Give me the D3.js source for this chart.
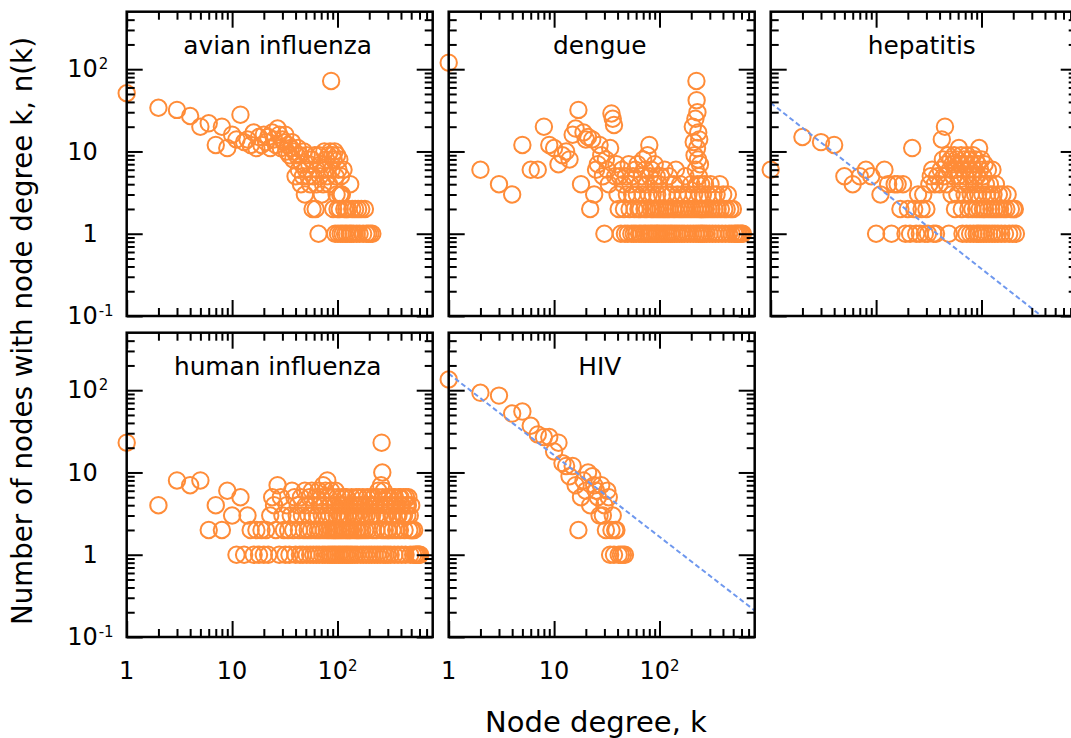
<!DOCTYPE html>
<html>
<head>
<meta charset="utf-8">
<script src="https://cdn.jsdelivr.net/npm/d3@7"></script>
<style>
body { margin: 0; background: #fff; }
svg text { font-family: "DejaVu Sans", Verdana, sans-serif; fill: #000; }
</style>
</head>
<body>
<svg id="chart" width="1071" height="738"></svg>
<script>
// Data: [node degree k, number of nodes n(k)] ==============================

var avianData = [
	[1,51],[2,34],[3,32],[4,27],[5,20],[6,22],[7,12],[8,20],[9,11],[10,16],[11,14],[12,28],
	[13,13],[14,14],[15,12],[16,17],[17,11],[18,15],[19,12],[20,16],[21,13],[22,15],[23,11],
	[24,17],[25,14],[26,12],[27,19],[28,16],[29,11],[30,14],[31,13],[32,16],[33,10],[34,12],
	[35,9],[36,11],[37,13],[38,8],[39,10],[40,5],[41,9],[42,11],[43,6],[44,9],[45,4],[46,7],
	[47,5],[48,10],[49,3],[50,6],[51,9],[53,5],[54,7],[55,4],[57,8],[58,2],[59,5],[61,9],
	[62,2],[63,4],[64,6],[66,1],[67,9],[68,5],[70,7],[71,3],[73,4],[75,10],[76,6],[78,8],
	[80,5],[82,9],[83,4],[85,10],[87,72],[88,6],[90,9],[91,2],[92,8],[94,10],[95,1],[96,5],
	[98,3],[99,9],[100,2],[101,1],[102,6],[104,8],[105,2],[106,3],[107,1],[108,5],[110,3],
	[112,1],[114,6],[116,2],[118,1],[121,2],[123,1],[126,2],[130,1],[132,4],[135,1],[138,2],
	[142,1],[147,2],[152,1],[157,2],[162,1],[168,2],[175,1],[182,2],[188,1],[196,1],[205,1],[214,1]
];

var dengueData = [
	[1,120],[2,6],[3,4],[4,3],[5,12],[6,6],[7,6],[8,20],[9,12],[10,11],[11,7],[12,9],[13,10],
	[14,8],[15,16],[16,19],[17,32],[18,4],[19,17],[20,14],[21,15],[22,2],[23,14],[24,3],[25,6],
	[26,7],[27,12],[28,9],[29,5],[30,1],[31,8],[32,6],[33,4],[34,11],[35,29],[36,25],[37,21],
	[38,5],[39,7],[40,3],[41,2],[42,5],[43,1],[44,6],[45,4],[46,2],[47,1],[48,5],[49,3],[50,1],
	[51,7],[52,2],[53,4],[54,1],[55,3],[56,5],[57,1],[58,2],[59,6],[60,1],[61,3],[62,7],[63,2],
	[64,1],[65,4],[66,2],[67,1],[68,5],[69,3],[70,8],[71,1],[72,2],[73,6],[74,1],[75,4],[76,2],
	[77,9],[78,1],[79,3],[80,12],[81,5],[82,1],[83,2],[84,6],[85,1],[86,3],[87,2],[88,4],[89,1],
	[90,7],[92,2],[93,1],[94,5],[95,3],[96,1],[97,2],[99,4],[100,1],[102,2],[103,5],[105,1],
	[106,3],[108,2],[110,1],[112,6],[113,2],[115,1],[117,3],[119,2],[121,1],[123,5],[125,2],
	[127,1],[130,3],[132,1],[134,2],[137,4],[139,1],[141,2],[143,6],[146,1],[148,3],[151,2],
	[154,1],[157,4],[160,2],[163,1],[166,3],[169,2],[172,1],[176,5],[180,2],[184,1],[188,3],
	[192,2],[196,1],[200,4],[204,2],[207,20],[209,1],[211,13],[213,3],[215,9],[217,2],[219,25],
	[221,6],[222,1],[224,72],[225,42],[227,11],[228,4],[229,30],[231,2],[232,8],[233,17],
	[234,1],[236,5],[238,14],[240,3],[242,7],[244,2],[246,1],[248,4],[251,2],[254,1],[258,3],
	[262,2],[266,1],[270,4],[275,2],[280,1],[286,3],[292,2],[298,1],[305,4],[312,2],[318,1],
	[325,3],[332,2],[340,1],[348,3],[356,2],[364,1],[373,4],[382,2],[392,1],[402,3],[412,2],
	[423,1],[434,2],[445,3],[457,1],[470,2],[483,1],[497,2],[512,1],[530,1],[548,1],[566,1],
	[586,1],[605,1],[618,1]
];

var hepatitisData = [
	[1,6],[2,15],[3,13],[4,12],[5,5],[6,4],[7,5],[8,6],[9,5],[10,1],[11,3],[12,6],[13,4],
	[14,1],[15,4],[16,4],[17,2],[18,4],[19,1],[20,2],[21,1],[22,11],[23,2],[24,1],[25,3],
	[26,1],[27,2],[28,3],[29,1],[30,2],[31,1],[32,4],[33,5],[34,6],[35,1],[36,4],[37,1],
	[38,5],[40,4],[41,6],[42,14],[43,8],[44,5],[45,20],[46,7],[47,4],[48,9],[49,1],[50,6],
	[51,8],[52,3],[53,7],[54,5],[55,9],[56,2],[57,6],[58,8],[59,3],[60,5],[61,11],[62,7],
	[63,4],[64,9],[65,2],[66,1],[67,6],[68,8],[69,3],[70,5],[71,7],[72,1],[73,9],[74,4],
	[75,2],[76,6],[77,8],[78,1],[79,3],[80,5],[81,7],[82,2],[83,9],[84,1],[85,4],[86,6],
	[87,3],[88,8],[89,2],[90,1],[91,5],[92,7],[93,3],[94,1],[95,11],[96,2],[97,6],[98,4],
	[99,1],[100,8],[102,3],[103,2],[104,5],[105,1],[107,7],[108,2],[110,4],[111,1],[113,3],
	[115,6],[116,2],[118,1],[120,4],[122,3],[124,2],[126,1],[127,6],[130,3],[132,2],[134,1],
	[137,4],[140,2],[143,1],[146,3],[150,2],[154,1],[158,3],[162,2],[167,1],[172,2],[177,3],
	[183,1],[190,2],[197,1],[202,2],[207,2],[212,1]
];

var humanFluData = [
	[1,23],[2,4],[3,8],[4,7],[5,8],[6,2],[7,4],[8,2],[9,6],[10,3],[11,1],[12,5],[13,1],[14,3],
	[15,2],[16,1],[17,2],[18,1],[19,2],[20,1],[21,2],[22,1],[23,3],[24,5],[25,4],[26,2],[27,7],
	[28,1],[29,5],[30,3],[31,2],[32,1],[33,4],[34,2],[35,1],[36,3],[37,6],[38,2],[39,5],[40,1],
	[41,3],[42,4],[43,2],[44,1],[45,5],[46,3],[47,1],[48,2],[49,6],[50,4],[51,1],[52,2],[53,3],
	[54,5],[55,1],[56,2],[57,6],[58,3],[59,1],[60,4],[61,2],[62,5],[63,1],[64,3],[65,2],[66,6],
	[67,1],[68,4],[69,2],[70,5],[71,3],[72,1],[73,7],[74,2],[75,4],[76,1],[77,6],[78,3],[79,2],
	[80,8],[81,1],[82,5],[83,2],[84,3],[85,1],[86,4],[87,6],[88,2],[89,1],[90,5],[91,3],[92,2],
	[93,1],[94,4],[95,2],[96,6],[97,1],[98,3],[99,2],[100,5],[102,1],[103,2],[104,4],[105,3],
	[106,1],[107,3],[108,2],[109,4],[110,5],[111,1],[112,3],[113,2],[114,4],[116,1],[117,3],
	[118,5],[119,2],[121,1],[122,5],[124,2],[125,3],[126,1],[128,3],[129,2],[130,4],[132,1],
	[134,2],[136,5],[138,1],[140,4],[141,3],[143,2],[145,3],[146,1],[148,4],[150,5],[151,2],
	[154,1],[156,2],[157,3],[160,5],[162,4],[163,2],[166,1],[168,3],[169,4],[172,2],[174,5],
	[176,1],[179,3],[181,4],[183,2],[187,1],[189,3],[191,5],[195,2],[197,4],[199,1],[203,4],
	[205,5],[207,3],[211,1],[213,3],[216,2],[220,5],[222,4],[225,1],[229,4],[232,3],[234,2],
	[239,1],[242,5],[244,6],[249,3],[252,4],[254,1],[259,7],[262,23],[264,2],[266,10],[269,5],
	[272,1],[275,6],[278,4],[280,3],[281,2],[285,1],[288,4],[290,3],[296,5],[299,2],[301,1],
	[307,2],[310,5],[313,4],[319,1],[322,4],[326,3],[332,2],[336,3],[339,5],[346,1],[350,5],
	[353,4],[360,2],[364,4],[367,3],[375,1],[379,3],[383,5],[391,2],[395,5],[399,4],[407,1],
	[411,4],[415,3],[424,5],[428,3],[433,2],[442,1],[446,5],[451,4],[460,3],[465,4],[470,5],
	[480,2],[485,3],[490,1],[500,4],[505,2],[511,2],[522,1],[534,2],[546,1],[558,1],[571,1],
	[584,1],[597,1],[609,1]
];

var hivData = [
	[1,135],[2,93],[3,86],[4,52],[5,55],[6,37],[7,29],[8,27],[9,27],[10,18],[11,23],[12,13],
	[13,12],[14,9],[15,12],[16,7],[17,2],[18,5],[19,8],[20,6],[21,10],[22,4],[23,9],[24,7],
	[25,6],[26,5],[27,3],[28,7],[29,3],[30,4],[31,2],[32,6],[33,5],[34,1],[35,2],[36,3],
	[37,1],[38,2],[39,2],[41,1],[43,1],[45,1],[47,1]
];

// power-law fits, end points [k, n]
var hepatitisFit = [[1, 39], [370, 0.1]];
var hivFit = [[1, 159], [800, 0.21]];

var panelTitles = ["avian influenza", "dengue", "hepatitis", "human influenza", "HIV"];
var panelData = [avianData, dengueData, hepatitisData, humanFluData, hivData];
var panelFits = [null, null, hepatitisFit, null, hivFit];

var xDomain = [1, 800];
var yDomain = [0.1, 500];
var xMajorTicks = [1, 10, 100];
var xMinorTicks = [2,3,4,5,6,7,8,9,20,30,40,50,60,70,80,90,200,300,400,500,600,700];
var yMajorTicks = [0.1, 1, 10, 100];
var yMinorTicks = [0.2,0.3,0.4,0.5,0.6,0.7,0.8,0.9,2,3,4,5,6,7,8,9,20,30,40,50,60,70,80,90,200,300,400];
var xTickBase = ["1", "10", "10"];
var xTickSup  = ["", "", "2"];
var yTickBase = ["10", "1", "10", "10"];
var yTickSup  = ["-1", "", "", "2"];

// Layout ====================================================================

var panelW = 306;
var panelH = 304.3;
var gapX = 16;
var gapY = 16.7;
var marginLeft = 126.7;
var marginTop = 11.7;
var markerColor = "#ff8c38";
var fitColor = "#6f98ee";

var svg = d3.select("#chart");

var xScale = d3.scaleLog().domain(xDomain).range([0, panelW]);
var yScale = d3.scaleLog().domain(yDomain).range([panelH, 0]);

var fitLine = d3.line()
	.x(function(d) { return xScale(d[0]) })
	.y(function(d) { return yScale(d[1]) });

for (var i = 0; i < panelTitles.length; i++) {
	drawPanel(i);
}

// axis titles
svg.append("text")
	.attr("x", 596)
	.attr("y", 732)
	.attr("text-anchor", "middle")
	.attr("font-size", 29)
	.text("Node degree, k");

svg.append("text")
	.attr("transform", "translate(32,331) rotate(-90)")
	.attr("text-anchor", "middle")
	.attr("font-size", 27.7)
	.text("Number of nodes with node degree k, n(k)");

function drawPanel(i) {
	var col = i % 3;
	var row = Math.floor(i / 3);
	var px = marginLeft + col * (panelW + gapX);
	var py = marginTop + row * (panelH + gapY);

	var g = svg.append("g")
		.attr("transform", "translate(" + px + "," + py + ")");

	g.append("clipPath")
		.attr("id", "clip" + i)
		.append("rect")
		.attr("width", panelW)
		.attr("height", panelH);

	g.append("g")
		.selectAll("circle")
		.data(panelData[i])
		.enter()
		.append("circle")
		.attr("cx", function(d) { return xScale(d[0]) })
		.attr("cy", function(d) { return yScale(d[1]) })
		.attr("r", 8.2)
		.attr("fill", "none")
		.attr("stroke", markerColor)
		.attr("stroke-width", 2);

	if (panelFits[i]) {
		g.append("path")
			.datum(panelFits[i])
			.attr("d", fitLine)
			.attr("clip-path", "url(#clip" + i + ")")
			.attr("fill", "none")
			.attr("stroke", fitColor)
			.attr("stroke-width", 2)
			.attr("stroke-dasharray", "5,3");
	}

	// inward ticks on all four sides
	addTicks(g, d3.axisBottom(xScale), xMajorTicks, 16, "translate(0,0)");
	addTicks(g, d3.axisBottom(xScale), xMinorTicks, 8, "translate(0,0)");
	addTicks(g, d3.axisTop(xScale), xMajorTicks, 16, "translate(0," + panelH + ")");
	addTicks(g, d3.axisTop(xScale), xMinorTicks, 8, "translate(0," + panelH + ")");
	addTicks(g, d3.axisRight(yScale), yMajorTicks, 16, "translate(0,0)");
	addTicks(g, d3.axisRight(yScale), yMinorTicks, 8, "translate(0,0)");
	addTicks(g, d3.axisLeft(yScale), yMajorTicks, 16, "translate(" + panelW + ",0)");
	addTicks(g, d3.axisLeft(yScale), yMinorTicks, 8, "translate(" + panelW + ",0)");

	g.append("rect")
		.attr("width", panelW)
		.attr("height", panelH)
		.attr("fill", "none")
		.attr("stroke", "#000")
		.attr("stroke-width", 2.5);

	g.append("text")
		.attr("x", panelW / 2 - 2)
		.attr("y", 42.5)
		.attr("text-anchor", "middle")
		.attr("font-size", 24.8)
		.text(panelTitles[i]);

	if (col == 0) {
		yMajorTicks.forEach(function(v, j) {
			g.append("text")
				.attr("x", -29)
				.attr("y", yScale(v) + 8.3)
				.attr("text-anchor", "end")
				.attr("font-size", 24)
				.text(yTickBase[j]);
			if (yTickSup[j]) {
				g.append("text")
					.attr("x", -28)
					.attr("y", yScale(v))
					.attr("font-size", 15)
					.text(yTickSup[j]);
			}
		});
	}

	// x labels only on the bottom row
	if (row == 1) {
		xMajorTicks.forEach(function(v, j) {
			var t = g.append("text")
				.attr("x", xScale(v))
				.attr("y", panelH + 42.3)
				.attr("text-anchor", "middle")
				.attr("font-size", 24)
				.text(xTickBase[j]);
			if (xTickSup[j]) {
				t.append("tspan")
					.attr("dy", -8.5)
					.attr("font-size", 15)
					.text(xTickSup[j]);
			}
		});
	}
}

function addTicks(g, axis, values, size, transform) {
	g.append("g")
		.attr("transform", transform)
		.call(axis.tickValues(values).tickSize(size).tickFormat(""))
		.call(function(s) { s.select(".domain").remove() })
		.selectAll("line")
		.attr("stroke", "#000")
		.attr("stroke-width", 2);
}
</script>
</body>
</html>
